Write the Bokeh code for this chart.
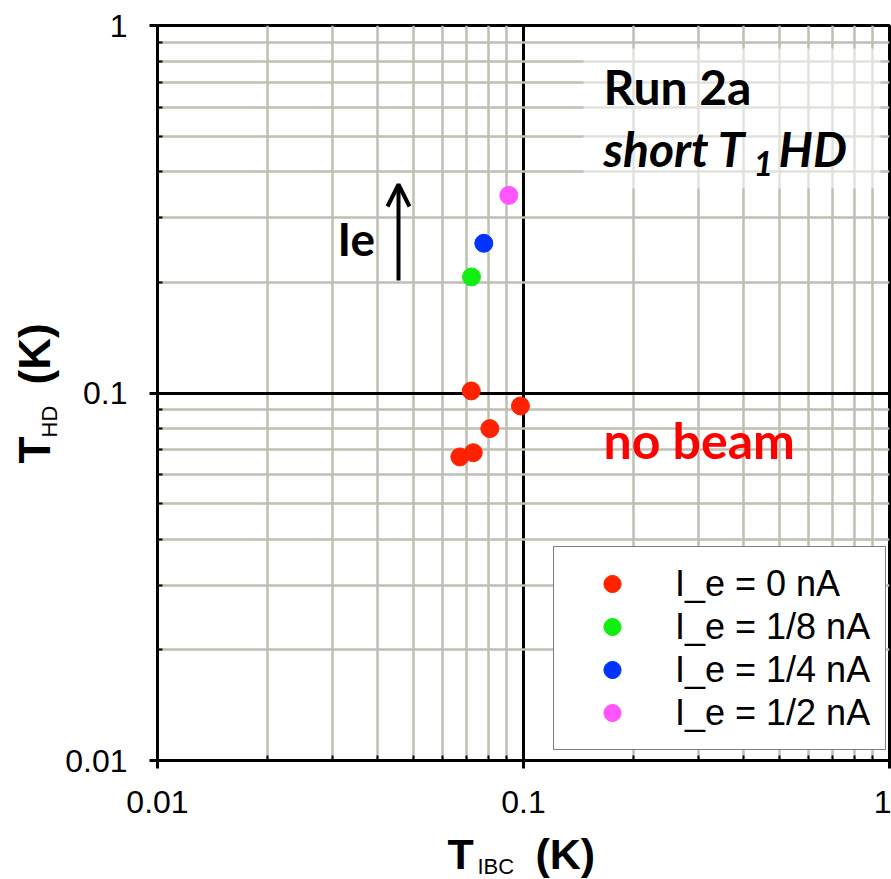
import math
from bokeh.plotting import figure
from bokeh.layouts import row, column
from bokeh.models import FixedTicker, Label, Arrow, OpenHead, BoxAnnotation
from bokeh.embed import file_html
from bokeh.resources import INLINE

# ---- data ----
x_red = [0.0670, 0.0729, 0.0720, 0.0809, 0.0981]
y_red = [0.0670, 0.0688, 0.1013, 0.0800, 0.0922]
x_green = [0.0721]
y_green = [0.2069]
x_blue = [0.0779]
y_blue = [0.2555]
x_magenta = [0.0912]
y_magenta = [0.345]

series_labels = ["I_e = 0 nA", "I_e = 1/8 nA", "I_e = 1/4 nA", "I_e = 1/2 nA"]
major_ticks = [0.01, 0.1, 1]
major_tick_labels = ["0.01", "0.1", "1"]
minor_ticks = [m * d for d in (0.01, 0.1) for m in range(2, 10)]

LEFT_W = 62
MAIN_W = 891 - LEFT_W
MAIN_H = 830
BOTTOM_H = 879 - MAIN_H
FRAME_LEFT = 157      # page x of the plot frame's left edge
SHIFT = 0.37          # baseline correction, as a fraction of the font size

p = figure(width=MAIN_W, height=MAIN_H, x_axis_type="log", y_axis_type="log",
           x_range=(0.01, 1), y_range=(0.01, 1),
           output_backend="svg", toolbar_location=None,
           min_border_left=FRAME_LEFT - LEFT_W, min_border_right=2, min_border_top=25,
           min_border_bottom=MAIN_H - 760)
p.background_fill_color = "white"
p.border_fill_color = "white"
p.outline_line_color = "black"
p.outline_line_width = 3

for ax in (p.xaxis[0], p.yaxis[0]):
    ax.ticker = FixedTicker(ticks=major_ticks, minor_ticks=minor_ticks)
    ax.major_label_overrides = {t: l for t, l in zip(major_ticks, major_tick_labels)}
    ax.axis_line_color = "black"
    ax.axis_line_width = 3
    ax.major_tick_line_color = "black"
    ax.major_tick_line_width = 3
    ax.major_tick_in = 0
    ax.major_tick_out = 8
    ax.minor_tick_line_color = "black"
    ax.minor_tick_line_width = 2
    ax.minor_tick_in = 5
    ax.minor_tick_out = 0
    ax.major_label_text_font = "Liberation Sans"
    ax.major_label_text_font_size = "32px"
    ax.major_label_text_color = "black"
    ax.axis_label = None
p.yaxis.major_label_standoff = 22
p.xaxis.major_label_standoff = 22

for g in (p.xgrid[0], p.ygrid[0]):
    g.ticker = FixedTicker(ticks=major_ticks, minor_ticks=minor_ticks)
    g.grid_line_color = "black"
    g.grid_line_width = 3
    g.minor_grid_line_color = "#bfbfb2"
    g.minor_grid_line_width = 2.5

# semi-transparent white panel behind the run text
p.add_layout(BoxAnnotation(left=426, right=723, top=712, bottom=572,
                           left_units="screen", right_units="screen",
                           top_units="screen", bottom_units="screen",
                           fill_color="white", fill_alpha=0.55, line_color=None,
                           level="underlay"))

p.scatter(x_red, y_red, size=18, color="#ff2200", legend_label=series_labels[0])
p.scatter(x_green, y_green, size=18, color="#11ee11", legend_label=series_labels[1])
p.scatter(x_blue, y_blue, size=18, color="#0033ff", legend_label=series_labels[2])
p.scatter(x_magenta, y_magenta, size=18, color="#ff55ff", legend_label=series_labels[3])

lg = p.legend[0]
lg.location = (396, 10)
lg.label_text_font = "Liberation Sans"
lg.label_text_font_size = "36px"
lg.label_text_color = "black"
lg.glyph_width = 86
lg.glyph_height = 43
lg.label_height = 43
lg.label_standoff = 20
lg.spacing = 0
lg.padding = 15
lg.margin = 0
lg.border_line_color = "black"
lg.border_line_width = 1.5
lg.background_fill_alpha = 1.0


def mk(text, x, y, size, color="black", font="Lato", style="bold", angle=0.0):
    """Label whose (x, y) is the text baseline start, in frame pixels (y up)."""
    s = SHIFT * size
    if angle:
        x = x - s
    else:
        y = y + s
    return Label(x=x, y=y, x_units="screen", y_units="screen", text=text,
                 text_font=font, text_font_size=f"{size}px", text_font_style=style,
                 text_color=color, text_baseline="alphabetic", text_align="left",
                 angle=angle)


# in-plot annotations (frame-relative, baseline positions)
for lb in [mk("Run 2a", 446, 656, 48),
           mk("short T", 446, 594, 48, style="bold italic"),
           mk("1", 596, 584, 34, style="bold italic"),
           mk("HD", 621, 594, 48, style="bold italic"),
           mk("Ie", 180, 505, 46),
           mk("no beam", 446, 302, 50, color="#ff0000")]:
    p.add_layout(lb)

p.add_layout(Arrow(end=OpenHead(size=22, line_width=4, line_color="black"),
                   x_start=241, y_start=480, x_end=241, y_end=576,
                   start_units="screen", end_units="screen",
                   line_width=4, line_color="black"))


def title_fig(w, h):
    f = figure(width=w, height=h, x_range=(0, w), y_range=(0, h),
               x_axis_location=None, y_axis_location=None,
               output_backend="svg", toolbar_location=None, min_border=0)
    f.outline_line_color = None
    f.grid.grid_line_color = None
    f.background_fill_color = "white"
    f.border_fill_color = "white"
    return f


# y-axis title: T_HD (K), rotated (reads bottom to top)
left = title_fig(LEFT_W, 879)
for lb in [mk("T", 50, 879 - 463, 44, font="Liberation Sans", angle=math.pi / 2),
           mk("HD", 57, 879 - 437, 22, font="Liberation Sans", style="normal", angle=math.pi / 2),
           mk("(K)", 50, 879 - 384, 44, font="Liberation Sans", angle=math.pi / 2)]:
    left.add_layout(lb)

# x-axis title: T_IBC (K)  (this figure's frame is aligned with the main frame)
bottom = title_fig(MAIN_W, BOTTOM_H)
for lb in [mk("T", 447 - FRAME_LEFT, 879 - 869, 43, font="Liberation Sans"),
           mk("IBC", 477 - FRAME_LEFT, 879 - 874, 22, font="Liberation Sans", style="normal"),
           mk("(K)", 535 - FRAME_LEFT, 879 - 869, 43, font="Liberation Sans")]:
    bottom.add_layout(lb)

layout = row(left, column(p, bottom))
open("out.html", "w").write(file_html(layout, INLINE))
